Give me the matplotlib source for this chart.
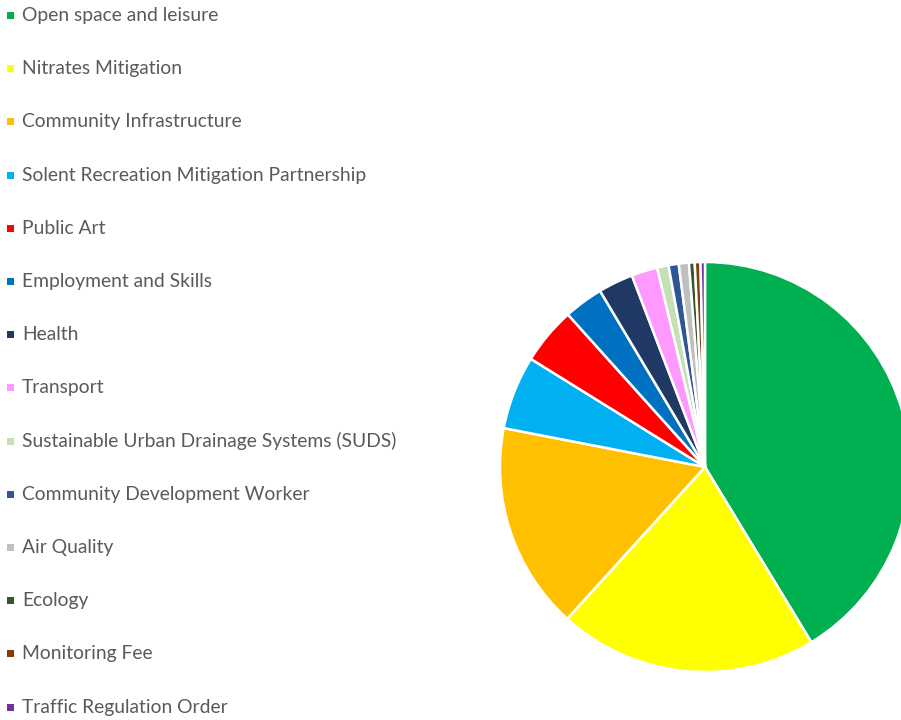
import matplotlib.pyplot as plt
from matplotlib.patches import Rectangle

# contributions by category (% of total)
categories = ['Open space and leisure', 'Nitrates Mitigation', 'Community Infrastructure',
              'Solent Recreation Mitigation Partnership', 'Public Art', 'Employment and Skills',
              'Health', 'Transport', 'Sustainable Urban Drainage Systems (SUDS)',
              'Community Development Worker', 'Air Quality', 'Ecology', 'Monitoring Fee',
              'Traffic Regulation Order']
shares = [41.3, 20.4, 16.3, 5.8, 4.5, 3.1, 2.75, 2.05, 0.9, 0.8, 0.8, 0.45, 0.45, 0.35]
colors = ['#00B050', '#FFFF00', '#FFC000', '#00B0F0', '#FF0000', '#0070C0', '#203864',
          '#FF99FF', '#C5E0B4', '#2F5597', '#BFBFBF', '#375623', '#843C0C', '#7030A0']

W, H = 901, 720
fig = plt.figure(figsize=(W / 100, H / 100), dpi=100)
ax = fig.add_axes([0, 0, 1, 1])

ax.pie(shares, colors=colors, startangle=90, counterclock=False,
       center=(705, H - 467), radius=205, frame=True,
       wedgeprops=dict(edgecolor='white', linewidth=1.8))
ax.set_xlim(0, W)
ax.set_ylim(0, H)
ax.set_aspect('equal')
ax.axis('off')

# legend down the left side
y0, step = 15.5, 53.2
for i, (lab, c) in enumerate(zip(categories, colors)):
    y = H - (y0 + i * step)
    ax.add_patch(Rectangle((7, y - 3.5), 7, 7, facecolor=c, edgecolor='none'))
    ax.text(22, y, lab, fontsize=13.9, family='Lato', color='#5a5a5a', va='center', ha='left')

fig.savefig('out.png', dpi=100)
